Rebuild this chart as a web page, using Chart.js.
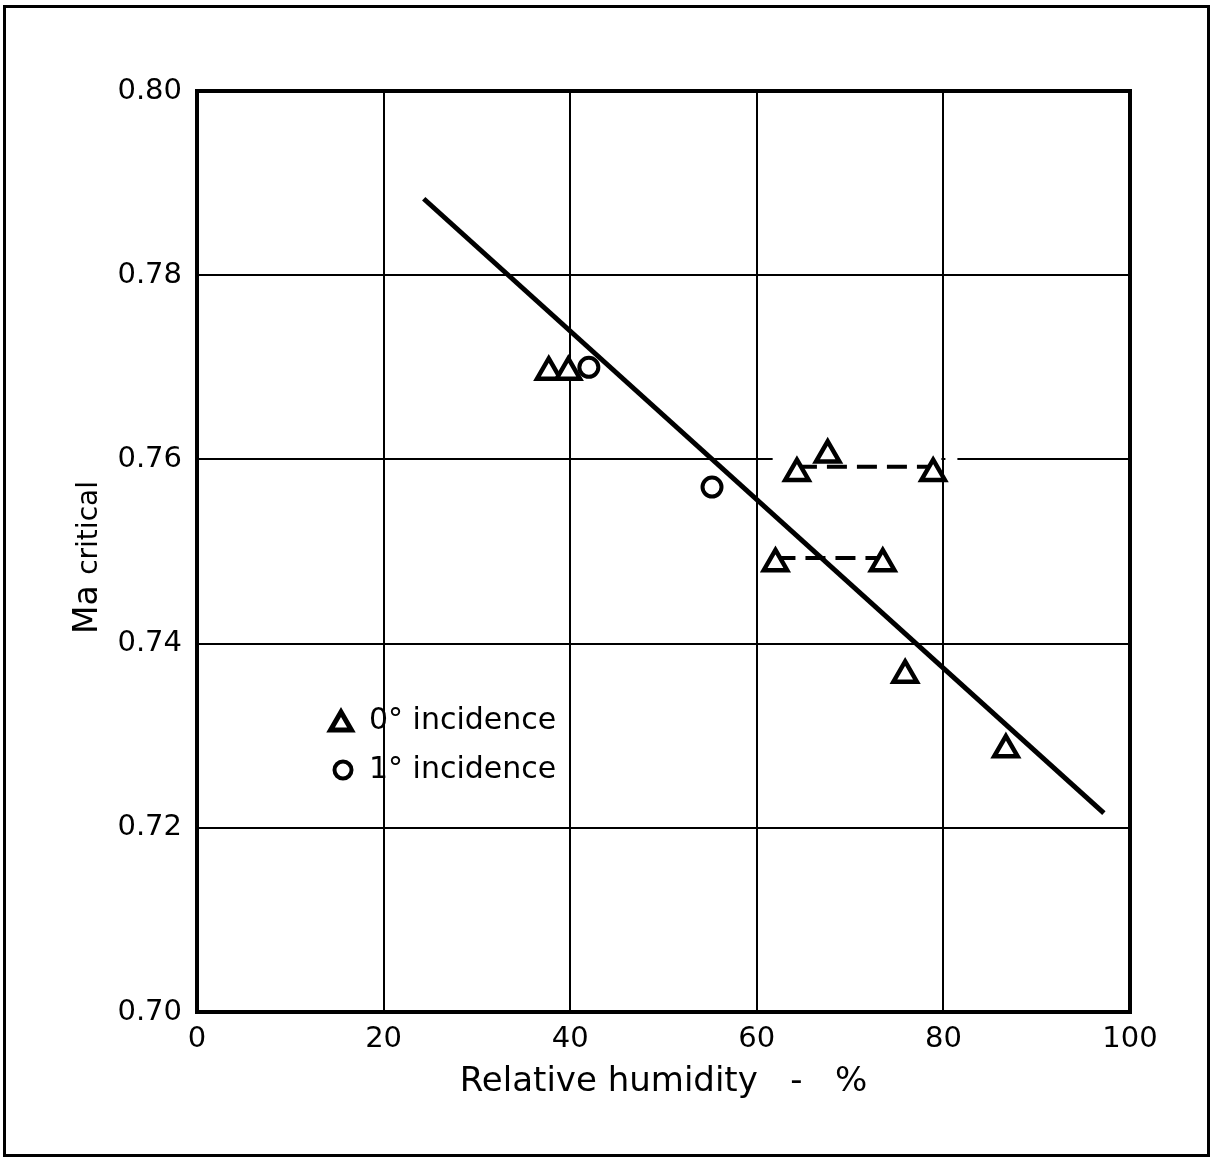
<!DOCTYPE html>
<html>
<head>
<meta charset="utf-8">
<title>Ma critical vs relative humidity</title>
<script src="https://cdn.jsdelivr.net/npm/chart.js@4/dist/chart.umd.min.js"></script>
<style>
  html, body { margin: 0; padding: 0; background: #fff; }
  #wrap { position: relative; width: 1214px; height: 1159px; }
  #frame {
    position: absolute; left: 3px; top: 5px; width: 1207px; height: 1152px;
    box-sizing: border-box; border: 3px solid #000; pointer-events: none;
  }
</style>
</head>
<body>
<div id="wrap">
  <canvas id="chart" width="1214" height="1159"></canvas>
  <div id="frame"></div>
</div>
<script>
// data
const incidence0X = [37.7, 39.8, 64.3, 67.6, 78.9, 62.0, 73.5, 75.9, 86.7];
const incidence0Y = [0.7695, 0.7695, 0.7585, 0.7605, 0.7585, 0.7487, 0.7487, 0.7366, 0.7285];
const incidence1X = [42.0, 55.2];
const incidence1Y = [0.770, 0.757];
const fitX = [24.3, 97.2];
const fitY = [0.7883, 0.7216];
const upperDashX = [64.3, 78.9];
const upperDashY = [0.7592, 0.7592];
const lowerDashX = [62.0, 73.5];
const lowerDashY = [0.7493, 0.7493];
const xTicks = [0, 20, 40, 60, 80, 100];
const yTicks = [0.70, 0.72, 0.74, 0.76, 0.78, 0.80];
const legendLabels = ['0\u00B0 incidence', '1\u00B0 incidence'];

const FONT = 'DejaVu Sans';

function pts(xs, ys) {
  return xs.map((x, i) => ({ x: x, y: ys[i] }));
}

function drawTri(ctx, x, y, r) {
  ctx.beginPath();
  ctx.moveTo(x, y - r);
  ctx.lineTo(x + r * Math.sin(2 * Math.PI / 3), y + r / 2);
  ctx.lineTo(x - r * Math.sin(2 * Math.PI / 3), y + r / 2);
  ctx.closePath();
}

const extras = {
  id: 'extras',
  beforeDatasetsDraw(chart) {
    const { ctx, chartArea: a, scales } = chart;
    const xs = scales.x, ys = scales.y;
    ctx.save();
    // gap in the 0.76 grid line
    const gy = ys.getPixelForValue(0.76);
    ctx.fillStyle = '#fff';
    const g1 = xs.getPixelForValue(61.7), g2 = xs.getPixelForValue(80) - 2;
    const g3 = xs.getPixelForValue(80) + 2, g4 = xs.getPixelForValue(81.5);
    ctx.fillRect(g1, gy - 3, g2 - g1, 6);
    ctx.fillRect(g3, gy - 3, g4 - g3, 6);
    // plot frame
    ctx.strokeStyle = '#000';
    ctx.lineWidth = 4;
    ctx.strokeRect(a.left, a.top, a.right - a.left, a.bottom - a.top);
    ctx.restore();
  },
  afterDraw(chart) {
    const { ctx, chartArea: a } = chart;
    ctx.save();
    // legend
    ctx.strokeStyle = '#000';
    ctx.textBaseline = 'middle';
    ctx.textAlign = 'left';
    const lx = a.left + 144, ly = a.top + 630;
    ctx.lineWidth = 5;
    ctx.fillStyle = '#fff';
    drawTri(ctx, lx, ly + 3, 12);
    ctx.fill(); ctx.stroke();
    ctx.beginPath();
    ctx.lineWidth = 4;
    ctx.arc(lx + 2, ly + 49, 8.5, 0, Math.PI * 2);
    ctx.fill(); ctx.stroke();
    ctx.fillStyle = '#000';
    ctx.font = '30px "' + FONT + '"';
    ctx.fillText(legendLabels[0], lx + 28, ly);
    ctx.fillText(legendLabels[1], lx + 28, ly + 49);
    // y axis title: "Ma" with smaller "critical"
    ctx.translate(97, 634);
    ctx.rotate(-Math.PI / 2);
    ctx.textBaseline = 'alphabetic';
    ctx.font = '33px "' + FONT + '"';
    ctx.fillText('Ma', 0, 0);
    const w = ctx.measureText('Ma ').width;
    ctx.font = '28px "' + FONT + '"';
    ctx.fillText('critical', w, 0);
    ctx.restore();
  }
};

new Chart(document.getElementById('chart'), {
  type: 'scatter',
  data: {
    datasets: [
      {
        label: legendLabels[0],
        data: pts(incidence0X, incidence0Y),
        pointStyle: 'triangle',
        pointRadius: 13.5,
        pointBorderWidth: 4.5,
        pointBorderColor: '#000',
        pointBackgroundColor: '#fff'
      },
      {
        label: legendLabels[1],
        data: pts(incidence1X, incidence1Y),
        pointStyle: 'circle',
        pointRadius: 9.5,
        pointBorderWidth: 4,
        pointBorderColor: '#000',
        pointBackgroundColor: '#fff'
      },
      {
        label: 'fit',
        data: pts(fitX, fitY),
        showLine: true,
        borderColor: '#000',
        borderWidth: 5,
        pointRadius: 0
      },
      {
        label: 'upper',
        data: pts(upperDashX, upperDashY),
        showLine: true,
        borderColor: '#000',
        borderWidth: 4,
        borderDash: [20, 10],
        pointRadius: 0
      },
      {
        label: 'lower',
        data: pts(lowerDashX, lowerDashY),
        showLine: true,
        borderColor: '#000',
        borderWidth: 4,
        borderDash: [20, 10],
        pointRadius: 0
      }
    ]
  },
  options: {
    responsive: false,
    animation: false,
    layout: { padding: { left: 0, top: 91, right: 84, bottom: 0 } },
    plugins: {
      legend: { display: false },
      tooltip: { enabled: false }
    },
    scales: {
      x: {
        type: 'linear',
        min: 0,
        max: 100,
        afterBuildTicks: (s) => { s.ticks = xTicks.map(v => ({ value: v })); },
        afterFit: (s) => { s.height = 147; },
        grid: { color: '#000', lineWidth: 2, drawTicks: false },
        border: { display: false },
        ticks: {
          color: '#000',
          padding: 10,
          font: { family: FONT, size: 29 },
          maxRotation: 0
        },
        title: {
          display: true,
          text: 'Relative humidity   -   %',
          color: '#000',
          font: { family: FONT, size: 34 },
          padding: { top: 0, bottom: 56 }
        }
      },
      y: {
        type: 'linear',
        min: 0.70,
        max: 0.80,
        afterBuildTicks: (s) => { s.ticks = yTicks.map(v => ({ value: v })); },
        afterFit: (s) => { s.width = 197; },
        grid: { color: '#000', lineWidth: 2, drawTicks: false },
        border: { display: false },
        ticks: {
          color: '#000',
          padding: 15,
          font: { family: FONT, size: 29 },
          callback: (v) => v.toFixed(2)
        }
      }
    }
  },
  plugins: [extras]
});
</script>
</body>
</html>
